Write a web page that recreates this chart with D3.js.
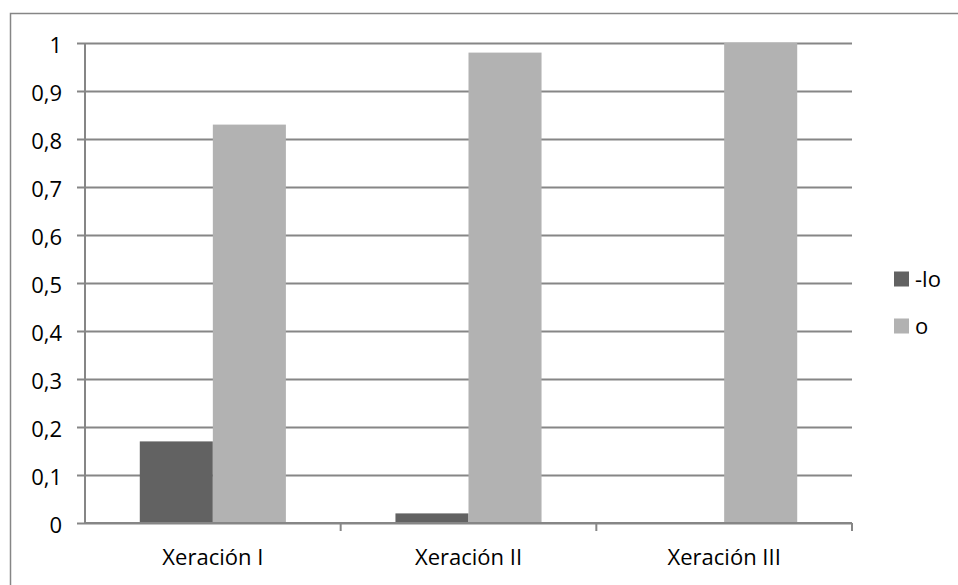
<!DOCTYPE html>
<html>
<head>
<meta charset="utf-8">
<script src="https://cdn.jsdelivr.net/npm/d3@7"></script>
<style>
  html, body { margin: 0; padding: 0; background: #fff; }
  svg { display: block; }
  text { font-family: "Open Sans", "DejaVu Sans", sans-serif; fill: #000; }
</style>
</head>
<body>
<svg id="chart" width="958" height="585"></svg>
<script>
// Categories, series and axis ticks
const categories = ["Xeración I", "Xeración II", "Xeración III"];
const seriesNames = ["-lo", "o"];
const seriesLo = [0.17, 0.02, 0];
const seriesO = [0.83, 0.98, 1];
const yTicks = [0, 0.1, 0.2, 0.3, 0.4, 0.5, 0.6, 0.7, 0.8, 0.9, 1];
const seriesColors = ["#626262", "#b2b2b2"];

const svg = d3.select("#chart");
const W = 958, H = 585;
const plot = { left: 85, right: 852, top: 43, bottom: 523 };
const fontSize = 22;

// Outer chart frame
svg.append("rect")
  .attr("x", 10.5).attr("y", 13.5)
  .attr("width", W + 20).attr("height", H + 20)
  .attr("fill", "#fff").attr("stroke", "#868686").attr("stroke-width", 1.5);

const x = d3.scaleBand().domain(categories).range([plot.left, plot.right]);
const y = d3.scaleLinear().domain([0, 1]).range([plot.bottom, plot.top]);

// Bars sit in the middle of each band; the gap is 1.5x a bar width
const inner = d3.scaleBand().domain(seriesNames)
  .range([0, x.bandwidth()]).paddingOuter(0.75).paddingInner(0);

// Horizontal gridlines with left tick marks
const yAxis = d3.axisLeft(y).tickValues(yTicks)
  .tickFormat(d => d3.format("~g")(d).replace(".", ","))
  .tickSize(0);
const gy = svg.append("g").attr("transform", `translate(${plot.left - 8},0)`).call(yAxis);
gy.select(".domain").remove();
gy.selectAll(".tick line").attr("stroke", "#868686").attr("stroke-width", 2)
  .attr("x1", 0).attr("x2", plot.right - plot.left + 8);
gy.selectAll(".tick text").attr("font-size", fontSize).attr("dy", "0.45em")
  .attr("x", -15);

// Bars
const rows = categories.map((c, i) => ({ c, vals: [seriesLo[i], seriesO[i]] }));
const groups = svg.append("g").selectAll("g").data(rows).join("g")
  .attr("transform", d => `translate(${x(d.c)},0)`);
groups.selectAll("rect")
  .data(d => d.vals.map((v, j) => ({ name: seriesNames[j], v, j })))
  .join("rect")
  .attr("x", d => inner(d.name))
  .attr("width", inner.bandwidth())
  .attr("y", d => y(d.v))
  .attr("height", d => y(0) - y(d.v))
  .attr("fill", d => seriesColors[d.j]);

// Vertical axis line
svg.append("line")
  .attr("x1", plot.left).attr("x2", plot.left)
  .attr("y1", plot.top).attr("y2", plot.bottom + 1)
  .attr("stroke", "#868686").attr("stroke-width", 2);

// Category axis with tick marks at band boundaries
const xAxis = d3.axisBottom(x).tickSize(0).tickPadding(26);
const gx = svg.append("g").attr("transform", `translate(0,${plot.bottom})`).call(xAxis);
gx.select(".domain").attr("stroke", "#868686").attr("stroke-width", 2)
  .attr("d", `M${plot.left},0H${plot.right}`);
gx.selectAll(".tick text").attr("font-size", fontSize);
const bounds = categories.map(c => x(c) + x.bandwidth());
svg.append("g").selectAll("line").data(bounds).join("line")
  .attr("x1", d => d).attr("x2", d => d)
  .attr("y1", plot.bottom).attr("y2", plot.bottom + 8)
  .attr("stroke", "#868686").attr("stroke-width", 2);

// Legend
const legend = svg.append("g").attr("transform", "translate(894,0)");
const legendY = [279, 326];
const li = legend.selectAll("g").data(seriesNames).join("g")
  .attr("transform", (d, i) => `translate(0,${legendY[i]})`);
li.append("rect").attr("x", 0).attr("y", -7.5).attr("width", 15).attr("height", 15)
  .attr("fill", (d, i) => seriesColors[i]);
li.append("text").attr("x", 21).attr("dy", "0.36em").attr("font-size", fontSize).text(d => d);
</script>
</body>
</html>
